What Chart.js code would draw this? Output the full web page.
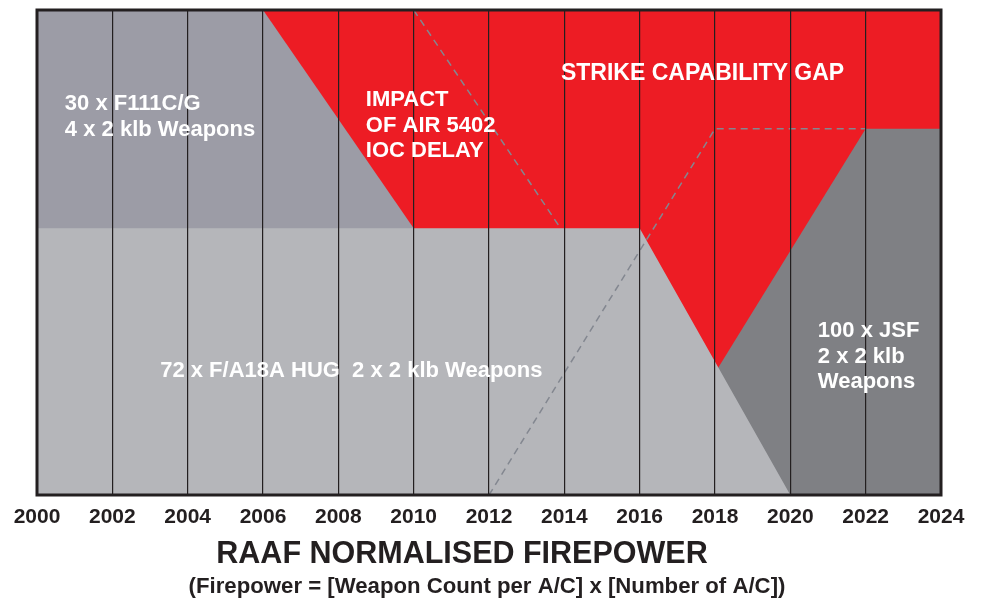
<!DOCTYPE html>
<html>
<head>
<meta charset="utf-8">
<script src="https://cdn.jsdelivr.net/npm/chart.js@4/dist/chart.umd.min.js"></script>
<style>
  html, body { margin: 0; padding: 0; background: #fff; }
  #chart { display: block; }
</style>
</head>
<body>
<canvas id="chart" width="983" height="602"></canvas>
<script>
// --- data (years on x, normalised firepower 0-100 on y) ---
const tickYears = [2000, 2002, 2004, 2006, 2008, 2010, 2012, 2014, 2016, 2018, 2020, 2022, 2024]

const gapYears = [2000, 2024]
const gapValues = [100, 100]

const f111Years = [2000, 2006, 2010]
const f111Values = [100, 100, 55]

const jsfYears = [2016, 2022, 2024]
const jsfValues = [0, 75.5, 75.5]

const fa18Years = [2000, 2016, 2020, 2024]
const fa18Values = [55, 55, 0, 0]

const delayYears = [2010, 2013.9]
const delayValues = [100, 55]

const planYears = [2012, 2018, 2022]
const planValues = [0, 75.5, 75.5]

// in-chart notes: text, left year, value of first line centre
const notes = [
  { lines: ['30 x F111C/G', '4 x 2 klb Weapons'], year: 2000.74, value: 80.6, size: 22 },
  { lines: ['IMPACT', 'OF AIR 5402', 'IOC DELAY'], year: 2008.73, value: 81.4, size: 22 },
  { lines: ['STRIKE CAPABILITY GAP'], year: 2013.91, value: 86.8, size: 23 },
  { lines: ['72 x F/A18A HUG  2 x 2 klb Weapons'], year: 2003.27, value: 25.6, size: 22 },
  { lines: ['100 x JSF', '2 x 2 klb', 'Weapons'], year: 2020.73, value: 33.8, size: 22 }
]

const title = 'RAAF NORMALISED FIREPOWER'
const subtitle = '(Firepower = [Weapon Count per A/C] x [Number of A/C])'

const toPoints = (xs, ys) => xs.map((x, i) => ({ x, y: ys[i] }))

const colors = {
  red: '#ed1c24',
  f111: '#9c9ca6',
  fa18: '#b5b6ba',
  jsf: '#7f8084',
  dash: '#838790',
  ink: '#231f20'
}

const FONT = '"Liberation Sans", Arial, sans-serif'

function area(label, xs, ys, color, order) {
  return {
    label,
    data: toPoints(xs, ys),
    backgroundColor: color,
    borderColor: 'transparent',
    borderWidth: 0,
    pointRadius: 0,
    fill: 'origin',
    tension: 0,
    order
  }
}

function dashed(label, xs, ys) {
  return {
    label,
    data: toPoints(xs, ys),
    borderColor: colors.dash,
    borderWidth: 1.5,
    borderDash: [7, 5],
    pointRadius: 0,
    fill: false,
    tension: 0,
    order: 0
  }
}

// frame + notes + title
const textPlugin = {
  id: 'texts',
  afterDraw(chart) {
    const { ctx, chartArea, scales } = chart
    ctx.save()
    ctx.strokeStyle = colors.ink
    ctx.lineWidth = 3
    ctx.strokeRect(chartArea.left, chartArea.top, chartArea.right - chartArea.left, chartArea.bottom - chartArea.top)

    ctx.fillStyle = '#fff'
    ctx.textBaseline = 'middle'
    ctx.textAlign = 'left'
    notes.forEach((n) => {
      ctx.font = `bold ${n.size}px ${FONT}`
      const x = scales.x.getPixelForValue(n.year)
      const y = scales.y.getPixelForValue(n.value)
      n.lines.forEach((line, i) => ctx.fillText(line, x, y + i * 25.5))
    })

    ctx.fillStyle = colors.ink
    ctx.textAlign = 'center'
    ctx.font = `bold 30.5px ${FONT}`
    ctx.fillText(title, 462, 555)
    ctx.font = `bold 22.2px ${FONT}`
    ctx.fillText(subtitle, 487, 587)
    ctx.restore()
  }
}

new Chart(document.getElementById('chart'), {
  type: 'line',
  data: {
    datasets: [
      dashed('IOC delay', delayYears, delayValues),
      dashed('Planned JSF', planYears, planValues),
      area('F/A18A HUG', fa18Years, fa18Values, colors.fa18, 1),
      area('JSF', jsfYears, jsfValues, colors.jsf, 2),
      area('F111C/G', f111Years, f111Values, colors.f111, 3),
      area('Strike capability gap', gapYears, gapValues, colors.red, 4)
    ]
  },
  options: {
    responsive: false,
    animation: false,
    layout: { padding: { left: 37, right: 42, top: 10, bottom: 0 } },
    plugins: {
      legend: { display: false },
      tooltip: { enabled: false }
    },
    scales: {
      x: {
        type: 'linear',
        min: 2000,
        max: 2024,
        afterFit: (scale) => { scale.height = 107 },
        afterBuildTicks: (scale) => {
          scale.ticks = tickYears.map((value) => ({ value }))
        },
        grid: { color: colors.ink, lineWidth: 1.2, drawTicks: false, z: 1 },
        border: { display: false },
        ticks: {
          autoSkip: false,
          maxRotation: 0,
          padding: 10,
          color: colors.ink,
          font: { family: FONT, size: 21, weight: 'bold' },
          callback: (v) => String(v)
        }
      },
      y: {
        display: false,
        min: 0,
        max: 100
      }
    }
  },
  plugins: [textPlugin]
})
</script>
</body>
</html>
